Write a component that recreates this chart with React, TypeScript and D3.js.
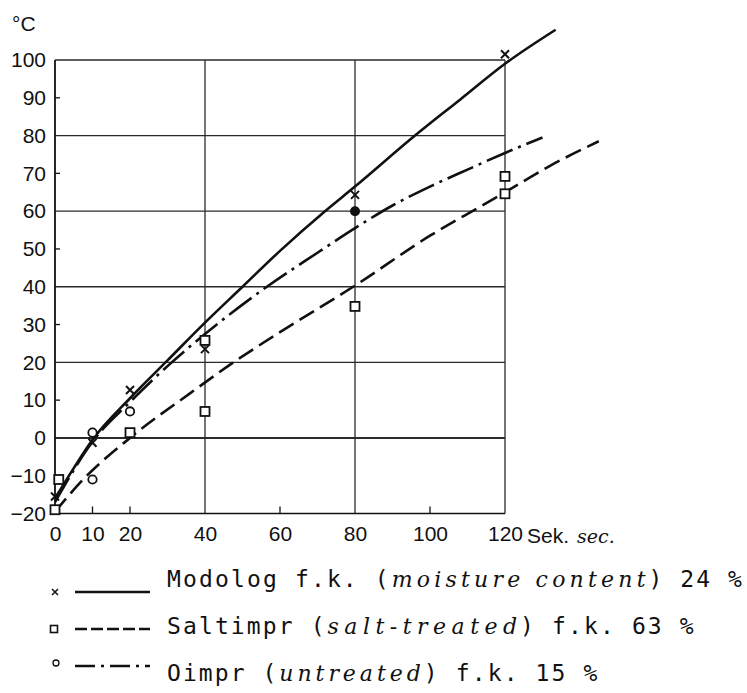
import { useRef, useEffect } from "react";
import * as d3 from "d3";

// axis ticks
const xTicks = [0, 10, 20, 40, 60, 80, 100, 120];
const yTicks = [-20, -10, 0, 10, 20, 30, 40, 50, 60, 70, 80, 90, 100];
const xGrid = [40, 80, 120];
const yGrid = [0, 20, 40, 60, 80, 100];
const xMinor = [10, 20, 60, 100];
const yMinor = [-10, 10, 30, 50, 70, 90];

// drawn curves (sek, °C)
const modologCurve = [[0, -16], [5, -8], [10, -0.5], [20, 10.5], [30, 20.5], [40, 30.5], [50, 40], [60, 49.5], [72, 60], [80, 66.5], [96, 80], [108, 89.5], [120, 99], [133.5, 108]];
const saltCurve = [[0, -19.5], [7.5, -11], [20, 0], [36, 11.8], [47.6, 20], [60, 28], [80, 40.3], [100, 53.5], [113, 61], [120, 65], [132, 72], [145, 78.5]];
const untreatedCurve = [[0, -17], [5, -8.5], [10, -1], [20, 9.5], [30, 19], [40, 27.5], [56.5, 40], [70, 49], [80, 55.5], [90, 61.5], [100, 66.5], [110, 71], [120, 75.4], [130, 79.5]];

// measured points
const modologPoints = [[0, -15.5], [10, -1.3], [20, 12.7], [40, 23.5], [80, 64.3], [120, 101.5]];
const saltPoints = [[0, -19], [1, -11], [20, 1.4], [40, 7], [40, 25.8], [80, 34.8], [120, 69.2], [120, 64.6]];
const untreatedPoints = [[10, 1.4], [10, -11], [20, 7]];
const untreatedFilled = [[80, 60]];

// legend texts
const legendNames = ["Modolog f.k. (", "Saltimpr (", "Oimpr ("];
const legendItalic = ["moisture content", "salt-treated", "untreated"];
const legendTail = [") 24 %", ") f.k. 63 %", ") f.k. 15 %"];

const App = () => {
  const svgRef = useRef(null);

  useEffect(() => {
    draw();
  }, []);

  const draw = () => {
    const width = 747;
    const height = 693;
    const svg = d3.select(svgRef.current).attr("width", width).attr("height", height);
    svg.selectAll("*").remove();

    const ink = "#111";
    const labelFont = "'Liberation Sans', Arial, sans-serif";
    const monoFont = "'DejaVu Sans Mono', monospace";
    const italicFont = "'DejaVu Serif', serif";

    const x = d3.scaleLinear().domain([0, 120]).range([55, 505]);
    const y = d3.scaleLinear().domain([-20, 100]).range([513.5, 60]);

    // rutnät
    const grid = svg.append("g").attr("stroke", "#2a2a2a").attr("stroke-width", 1.3);
    grid.selectAll("line.h")
      .data(yGrid)
      .join("line")
      .attr("class", "h")
      .attr("x1", x(0)).attr("x2", x(120))
      .attr("y1", d => y(d)).attr("y2", d => y(d))
      .attr("stroke-width", d => (d === 0 ? 2 : 1.4));
    grid.selectAll("line.v")
      .data(xGrid)
      .join("line")
      .attr("class", "v")
      .attr("x1", d => x(d)).attr("x2", d => x(d))
      .attr("y1", y(-20)).attr("y2", y(100));

    // axlar
    svg.append("line")
      .attr("x1", x(0)).attr("x2", x(0)).attr("y1", y(-20)).attr("y2", y(100))
      .attr("stroke", ink).attr("stroke-width", 1.8);
    svg.append("line")
      .attr("x1", x(0)).attr("x2", x(120)).attr("y1", y(-20)).attr("y2", y(-20))
      .attr("stroke", ink).attr("stroke-width", 1.6);

    // små streck
    svg.append("g").selectAll("line")
      .data(yMinor)
      .join("line")
      .attr("x1", x(0)).attr("x2", x(0) + 5)
      .attr("y1", d => y(d)).attr("y2", d => y(d))
      .attr("stroke", ink).attr("stroke-width", 1.3);
    svg.append("g").selectAll("line")
      .data(xMinor)
      .join("line")
      .attr("x1", d => x(d)).attr("x2", d => x(d))
      .attr("y1", y(-20)).attr("y2", y(-20) - 7)
      .attr("stroke", ink).attr("stroke-width", 1.3);

    // y-axel text
    svg.append("g")
      .attr("transform", `translate(${x(0)},0)`)
      .call(d3.axisLeft(y).tickValues(yTicks).tickSize(0).tickPadding(9))
      .call(g => g.select(".domain").remove())
      .selectAll("text")
        .attr("fill", ink)
        .style("font-family", labelFont)
        .style("font-size", "21px");

    // x-axel text
    svg.append("g")
      .attr("transform", `translate(0,${y(-20)})`)
      .call(d3.axisBottom(x).tickValues(xTicks).tickSize(0).tickPadding(13))
      .call(g => g.select(".domain").remove())
      .selectAll("text")
        .attr("fill", ink)
        .style("font-family", labelFont)
        .style("font-size", "21px");

    svg.append("text")
      .attr("x", 12).attr("y", 31)
      .attr("fill", ink)
      .style("font-family", labelFont).style("font-size", "21px")
      .text("°C");

    svg.append("text")
      .attr("x", 527).attr("y", 543)
      .attr("fill", ink)
      .style("font-family", labelFont).style("font-size", "21px")
      .text("Sek.");
    svg.append("text")
      .attr("x", 577).attr("y", 543)
      .attr("fill", ink)
      .style("font-family", italicFont).style("font-style", "italic").style("font-size", "19px")
      .text("sec.");

    // kurvor
    const line = d3.line().x(d => x(d[0])).y(d => y(d[1])).curve(d3.curveMonotoneX);
    const curves = [
      { data: modologCurve, dash: null },
      { data: saltCurve, dash: "17 7" },
      { data: untreatedCurve, dash: "28 6 3 6" },
    ];
    svg.append("g").selectAll("path")
      .data(curves)
      .join("path")
      .attr("d", d => line(d.data))
      .attr("fill", "none")
      .attr("stroke", ink)
      .attr("stroke-width", 2.6)
      .attr("stroke-dasharray", d => d.dash);

    // punkter
    const cross = (g, px, py, s, w) => {
      g.append("path")
        .attr("d", `M${px - s},${py - s}L${px + s},${py + s}M${px - s},${py + s}L${px + s},${py - s}`)
        .attr("stroke", ink).attr("stroke-width", w).attr("fill", "none");
    };
    const square = (g, px, py, s, w) => {
      g.append("rect")
        .attr("x", px - s).attr("y", py - s).attr("width", 2 * s).attr("height", 2 * s)
        .attr("fill", "white").attr("stroke", ink).attr("stroke-width", w);
    };
    const ring = (g, px, py, r, w) => {
      g.append("circle")
        .attr("cx", px).attr("cy", py).attr("r", r)
        .attr("fill", "white").attr("stroke", ink).attr("stroke-width", w);
    };

    const pts = svg.append("g");
    saltPoints.forEach(d => square(pts, x(d[0]), y(d[1]), 4.5, 1.8));
    untreatedPoints.forEach(d => ring(pts, x(d[0]), y(d[1]), 4.2, 1.8));
    untreatedFilled.forEach(d => pts.append("circle").attr("cx", x(d[0])).attr("cy", y(d[1])).attr("r", 5).attr("fill", ink));
    modologPoints.forEach(d => cross(pts, x(d[0]), y(d[1]), 4, 2));

    // teckenförklaring, skrivmaskin: alla tecken lika breda
    const rowY = [592, 629, 666];
    const textY = [587, 634, 681];
    const cell = 16.05;
    const textX = 167;
    const legend = svg.append("g");

    cross(legend, 55, rowY[0], 3, 1.5);
    square(legend, 54, rowY[1], 3.5, 1.6);
    ring(legend, 56, rowY[2] - 3, 3, 1.3);

    curves.forEach((c, i) => {
      legend.append("line")
        .attr("x1", 75).attr("x2", 150)
        .attr("y1", rowY[i]).attr("y2", rowY[i])
        .attr("stroke", ink).attr("stroke-width", 2.4)
        .attr("stroke-dasharray", i === 1 ? "12 4" : i === 2 ? "20 6 3 6" : null);

      const parts = [
        { t: legendNames[i], it: false },
        { t: legendItalic[i], it: true },
        { t: legendTail[i], it: false },
      ];
      let idx = 0;
      parts.forEach(p => {
        legend.append("text")
          .attr("x", textX + idx * cell).attr("y", textY[i])
          .attr("textLength", p.t.length * cell - 3)
          .attr("lengthAdjust", "spacing")
          .attr("fill", ink)
          .style("font-family", p.it ? italicFont : monoFont)
          .style("font-style", p.it ? "italic" : "normal")
          .style("font-size", p.it ? "22px" : "23px")
          .text(p.t);
        idx += p.t.length;
      });
    });
  };

  return <svg ref={svgRef} style={{ position: "absolute", left: 0, top: 0, background: "white" }}></svg>;
};

export default App;
